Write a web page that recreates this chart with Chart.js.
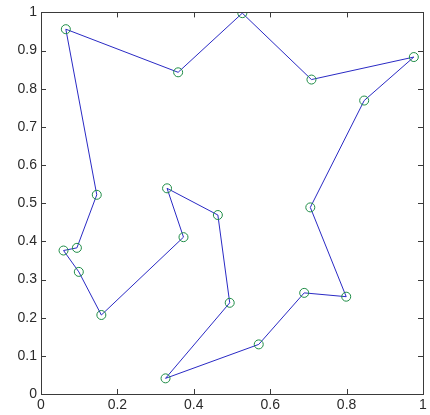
<!DOCTYPE html>
<html>
<head>
<meta charset="utf-8">
<script src="https://cdn.jsdelivr.net/npm/chart.js@4/dist/chart.umd.min.js"></script>
<style>
  html, body { margin: 0; padding: 0; background: #fff; }
  #wrap { position: relative; width: 430px; height: 415px; }
</style>
</head>
<body>
<div id="wrap"><canvas id="tour"></canvas></div>
<script>
// tour points, in visiting order (closed back to the first one)
const xValues = [0.065, 0.359, 0.527, 0.708, 0.976, 0.846, 0.705, 0.799, 0.689, 0.570,
  0.326, 0.494, 0.463, 0.330, 0.373, 0.158, 0.099, 0.059, 0.094, 0.146];
const yValues = [0.956, 0.843, 0.998, 0.824, 0.883, 0.769, 0.489, 0.255, 0.265, 0.130,
  0.041, 0.239, 0.469, 0.539, 0.411, 0.207, 0.320, 0.376, 0.383, 0.522];
const xTickLabels = ["0", "0.2", "0.4", "0.6", "0.8", "1"];
const yTickLabels = ["0", "0.1", "0.2", "0.3", "0.4", "0.5", "0.6", "0.7", "0.8", "0.9", "1"];

const pts = xValues.map((x, i) => ({ x: x, y: yValues[i] }));
pts.push(pts[0]);

const fontSize = 14;
const axisColor = "#3a3a3a";

// matlab style box with inward ticks on all four sides
const boxTicks = {
  id: "boxTicks",
  afterDraw(chart) {
    const ctx = chart.ctx;
    const a = chart.chartArea;
    const xs = chart.scales.x, ys = chart.scales.y;
    const len = 5;
    ctx.save();
    ctx.strokeStyle = axisColor;
    ctx.lineWidth = 1;
    ctx.strokeRect(Math.round(a.left) + 0.5, Math.round(a.top) + 0.5,
      Math.round(a.right - a.left), Math.round(a.bottom - a.top));
    ctx.beginPath();
    xs.ticks.forEach((t, i) => {
      const px = Math.round(xs.getPixelForTick(i)) + 0.5;
      ctx.moveTo(px, a.bottom); ctx.lineTo(px, a.bottom - len);
      ctx.moveTo(px, a.top); ctx.lineTo(px, a.top + len);
    });
    ys.ticks.forEach((t, i) => {
      const py = Math.round(ys.getPixelForTick(i)) + 0.5;
      ctx.moveTo(a.left, py); ctx.lineTo(a.left + len, py);
      ctx.moveTo(a.right, py); ctx.lineTo(a.right - len, py);
    });
    ctx.stroke();
    ctx.restore();
  }
};

new Chart(document.getElementById("tour").getContext("2d"), {
  type: "scatter",
  data: {
    datasets: [{
      data: pts,
      showLine: true,
      borderColor: "#2a2ac4",
      borderWidth: 1,
      pointStyle: "circle",
      // closing point repeats the first one, so no second marker there
      pointRadius: (c) => (c.dataIndex === pts.length - 1 ? 0 : 4.5),
      pointBorderWidth: 1,
      pointBorderColor: "#1e8c46",
      pointBackgroundColor: "rgba(0,0,0,0)",
      pointHoverRadius: 4.5
    }]
  },
  options: {
    responsive: true,
    maintainAspectRatio: false,
    animation: false,
    layout: { padding: { left: 0, right: 7, top: 11, bottom: 0 } },
    plugins: { legend: { display: false }, tooltip: { enabled: false } },
    scales: {
      x: {
        type: "linear",
        min: 0, max: 1,
        afterFit: (s) => { s.height = 21; },
        grid: { display: false, drawTicks: false },
        border: { display: false },
        ticks: {
          stepSize: 0.2,
          padding: 3,
          color: "#2a2a2a",
          maxRotation: 0,
          font: { family: "Liberation Sans", size: fontSize },
          callback: (v, i) => xTickLabels[i]
        }
      },
      y: {
        type: "linear",
        min: 0, max: 1,
        afterFit: (s) => { s.width = 41; },
        grid: { display: false, drawTicks: false },
        border: { display: false },
        ticks: {
          stepSize: 0.1,
          padding: 4,
          color: "#2a2a2a",
          font: { family: "Liberation Sans", size: fontSize },
          callback: (v, i) => yTickLabels[i]
        }
      }
    }
  },
  plugins: [boxTicks]
});
</script>
</body>
</html>
